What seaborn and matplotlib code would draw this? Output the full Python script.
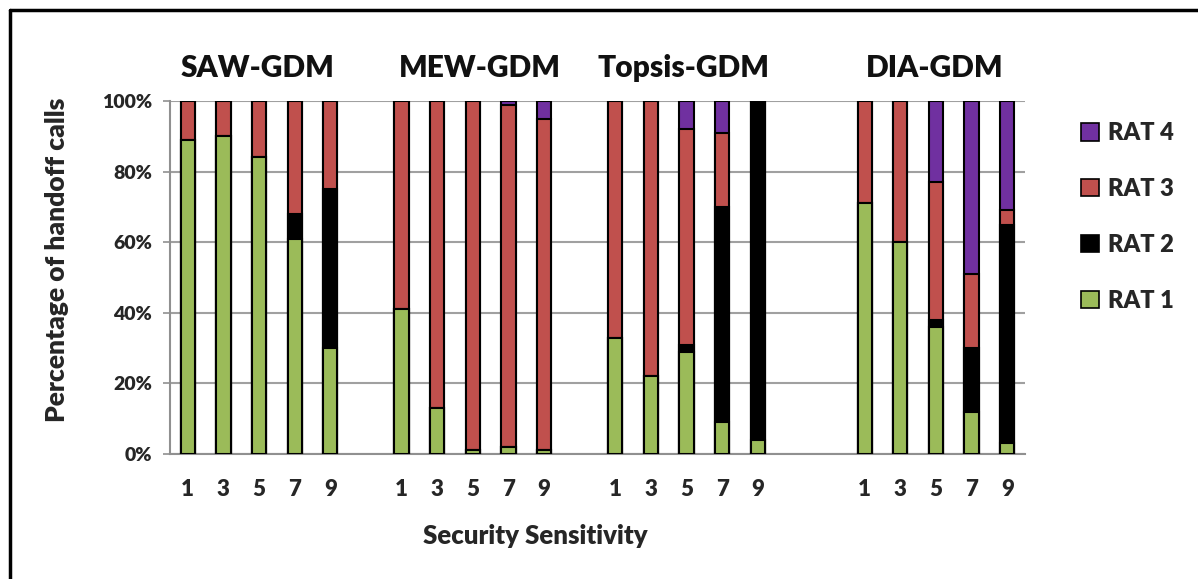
import matplotlib
matplotlib.use("Agg")
import matplotlib.pyplot as plt
from matplotlib.lines import Line2D
from matplotlib.patches import Patch
import numpy as np
import pandas as pd
import seaborn as sns

# Methods and security-sensitivity levels
methods = ["SAW-GDM", "MEW-GDM", "Topsis-GDM", "DIA-GDM"]
levels = ["1", "3", "5", "7", "9"]

# Percentage of handoff calls per RAT, in order of levels for each method
rat1 = {
    "SAW-GDM":    [89, 90, 84, 61, 30],
    "MEW-GDM":    [41, 13, 1, 2, 1],
    "Topsis-GDM": [33, 22, 29, 9, 4],
    "DIA-GDM":    [71, 60, 36, 12, 3],
}
rat2 = {
    "SAW-GDM":    [0, 0, 0, 7, 45],
    "MEW-GDM":    [0, 0, 0, 0, 0],
    "Topsis-GDM": [0, 0, 2, 61, 96],
    "DIA-GDM":    [0, 0, 2, 18, 62],
}
rat3 = {
    "SAW-GDM":    [11, 10, 16, 32, 25],
    "MEW-GDM":    [59, 87, 99, 97, 94],
    "Topsis-GDM": [67, 78, 61, 21, 0],
    "DIA-GDM":    [29, 40, 39, 21, 4],
}
rat4 = {
    "SAW-GDM":    [0, 0, 0, 0, 0],
    "MEW-GDM":    [0, 0, 0, 1, 5],
    "Topsis-GDM": [0, 0, 8, 9, 0],
    "DIA-GDM":    [0, 0, 23, 49, 31],
}

rat_names = ["RAT 1", "RAT 2", "RAT 3", "RAT 4"]
rat_colors = ["#9BBB59", "#000000", "#C0504D", "#7030A0"]

# Category slots along the x axis, with empty spacer slots between methods
gaps_after = {"SAW-GDM": 1, "MEW-GDM": 1, "Topsis-GDM": 2, "DIA-GDM": 0}
order, tick_text = [], []
for m in methods:
    for lv in levels:
        order.append(f"{m} {lv}")
        tick_text.append(lv)
    for g in range(gaps_after[m]):
        order.append(f"{m} gap{g}")
        tick_text.append("")

rows = []
for m in methods:
    for i, lv in enumerate(levels):
        vals = [rat1[m][i], rat2[m][i], rat3[m][i], rat4[m][i]]
        cum = np.cumsum(vals)
        for k, name in enumerate(rat_names):
            rows.append({"slot": f"{m} {lv}", "rat": name, "top": cum[k]})
df = pd.DataFrame(rows)

sns.set_theme(style="white")
plt.rcParams["font.family"] = ["Lato", "DejaVu Sans"]
plt.rcParams["font.weight"] = "heavy"
W = "heavy"

fig = plt.figure(figsize=(11.98, 5.79), dpi=100)
ax = fig.add_axes([170 / 1198, 1 - 454 / 579, (1025 - 170) / 1198, (454 - 101) / 579])

# Stacked bars: draw cumulative tops from the highest layer down
for name, color in reversed(list(zip(rat_names, rat_colors))):
    sub = df[df["rat"] == name]
    sns.barplot(data=sub, x="slot", y="top", order=order, color=color,
                width=0.4, edgecolor="black", linewidth=1.5,
                saturation=1, ax=ax, zorder=3)

ax.set_ylim(0, 100)
ax.set_xlim(-0.5, len(order) - 0.5)
ax.set_yticks([0, 20, 40, 60, 80, 100])
ax.set_yticklabels([f"{v}%" for v in range(0, 101, 20)], fontsize=14, fontweight=W)
ax.yaxis.grid(True, color="#A0A0A0", linewidth=1.5, zorder=0)
ax.set_axisbelow(True)

ax.set_xticks(range(len(order)))
ax.set_xticklabels(tick_text, fontsize=16, fontweight=W)
ax.tick_params(axis="x", length=0, pad=18)
ax.set_xticks(np.arange(-0.5, len(order), 1.0), minor=True)
ax.tick_params(axis="x", which="minor", length=6, width=1.2, color="#909090", direction="out")
ax.tick_params(axis="y", length=5, width=1.2, color="#909090", direction="out", pad=8, left=True)

for side in ["top", "right"]:
    ax.spines[side].set_visible(False)
for side in ["left", "bottom"]:
    ax.spines[side].set_color("#909090")
    ax.spines[side].set_linewidth(1.5)

ax.set_xlabel("")
ax.set_ylabel("")
fig.text(57 / 1198, 1 - 260 / 579, "Percentage of handoff calls", rotation=90,
         ha="center", va="center", fontsize=19, fontweight=W)
fig.text(535 / 1198, 1 - 536 / 579, "Security Sensitivity",
         ha="center", va="center", fontsize=18.5, fontweight=W)

# Method names above each group
title_x = [258, 480, 683, 935]
for m, tx in zip(methods, title_x):
    fig.text(tx / 1198, 1 - 68 / 579, m, ha="center", va="center",
             fontsize=21.5, fontweight=W, color="#111111")

# Legend, top entry RAT 4
handles = [Patch(facecolor=c, edgecolor="black", linewidth=1.2, label=n)
           for n, c in reversed(list(zip(rat_names, rat_colors)))]
fig.legend(handles=handles, loc="upper left", bbox_to_anchor=(1060 / 1198, 1 - 101 / 579),
           frameon=False, prop={"weight": W, "size": 17},
           handlelength=0.75, handleheight=0.75, handletextpad=0.4, labelspacing=1.43)

# Frame lines along the left and top edges
fig.add_artist(Line2D([10 / 1198, 10 / 1198], [0, 1 - 10 / 579], transform=fig.transFigure,
                      color="black", linewidth=2.5))
fig.add_artist(Line2D([10 / 1198, 1], [1 - 10 / 579, 1 - 10 / 579], transform=fig.transFigure,
                      color="black", linewidth=2.5))

fig.savefig("out.png", dpi=100)
